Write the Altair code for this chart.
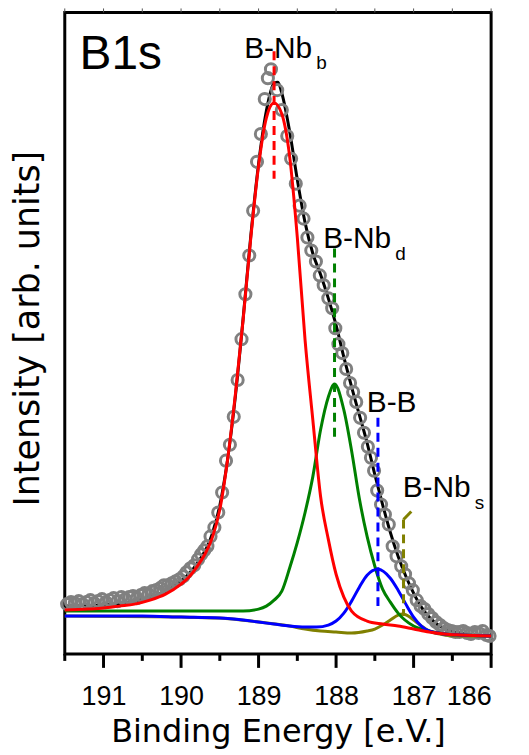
import altair as alt
import pandas as pd

# ---- measured spectrum (binding energy in eV, intensity in arb. units) ----
data_x = [191.47, 191.42, 191.37, 191.32, 191.27, 191.22, 191.17, 191.12, 191.07, 191.02,
          190.97, 190.92, 190.87, 190.82, 190.77, 190.72, 190.67, 190.62, 190.57, 190.52,
          190.47, 190.42, 190.37, 190.32, 190.27, 190.22, 190.17, 190.12, 190.07, 190.02,
          189.97, 189.93, 189.88, 189.83, 189.78, 189.74, 189.70, 189.66, 189.62, 189.57,
          189.52, 189.47, 189.42, 189.37, 189.32, 189.27, 189.22, 189.17, 189.12, 189.07,
          189.02, 188.97, 188.92, 188.88, 188.84, 188.76, 188.70, 188.63, 188.58, 188.52,
          188.47, 188.42, 188.37, 188.32, 188.26, 188.21, 188.16, 188.10, 188.05, 188.01,
          187.97, 187.92, 187.87, 187.82, 187.78, 187.74, 187.69, 187.64, 187.59, 187.55,
          187.51, 187.47, 187.42, 187.37, 187.32, 187.27, 187.22, 187.16, 187.11, 187.06,
          187.01, 186.96, 186.91, 186.86, 186.81, 186.76, 186.71, 186.66, 186.61, 186.56,
          186.51, 186.46, 186.41, 186.36, 186.31, 186.26, 186.21, 186.16, 186.11, 186.06,
          186.02]
data_y = [50, 52, 51, 53, 50, 52, 54, 51, 53, 55,
          52, 54, 56, 53, 57, 55, 57, 58, 56, 59,
          61, 60, 63, 64, 66, 69, 69, 71, 73, 75,
          78, 82, 86, 89, 95, 100, 104, 108, 118, 127,
          142, 162, 194, 210, 238, 275, 316, 361, 400, 445,
          494, 522, 557, 578, 587, 566, 546, 520, 497, 472,
          450, 437, 418, 405, 394, 380, 370, 357, 347, 327,
          311, 302, 286, 272, 263, 253, 237, 222, 208, 197,
          184, 164, 150, 140, 130, 108, 98, 88, 80, 71,
          64, 54, 48, 45, 40, 36, 32, 29, 26, 24,
          23, 22, 22, 23, 21, 20, 22, 21, 23, 19,
          18]

# ---- envelope (fit) ----
fit_x = [191.5, 191.0, 190.6, 190.4, 190.2, 190.0, 189.8, 189.6, 189.5, 189.4, 189.3,
         189.2, 189.1, 189.0, 188.9, 188.8, 188.75, 188.7, 188.6, 188.5, 188.4, 188.3,
         188.2, 188.1, 188.0, 187.9, 187.8, 187.7, 187.6, 187.5, 187.4, 187.3, 187.2,
         187.1, 187.0, 186.9, 186.8, 186.7, 186.6, 186.4, 186.2, 186.0]
fit_y = [48, 49, 53, 57, 63, 73, 90, 120, 149, 195, 258,
         336, 420, 492, 545, 573, 574, 563, 525, 476, 433, 402,
         381, 357, 330, 298, 268, 240, 212, 180, 150, 122, 98,
         78, 61, 47, 37, 30, 25, 21, 19, 18]

# ---- components ----
nbb_x = [191.5, 191.2, 191.0, 190.8, 190.6, 190.4, 190.2, 190.0, 189.9, 189.8, 189.7,
         189.6, 189.5, 189.4, 189.3, 189.2, 189.1, 189.0, 188.9, 188.8, 188.7, 188.6,
         188.5, 188.4, 188.3, 188.2, 188.1, 188.0, 187.9, 187.8, 187.6, 187.4, 187.2,
         187.0, 186.8, 186.6, 186.4, 186.0]
nbb_y = [44, 45, 46, 48, 50, 54, 60, 70, 77, 87, 99,
         116, 145, 195, 260, 335, 418, 490, 538, 553, 542, 500,
         418, 315, 235, 158, 115, 80, 57, 43, 33, 30, 28,
         25, 22, 20, 19, 18]

nbd_x = [191.5, 190.0, 189.4, 189.2, 189.0, 188.9, 188.8, 188.7, 188.6, 188.5, 188.4,
         188.3, 188.2, 188.1, 188.02, 187.9, 187.8, 187.7, 187.6, 187.5, 187.4, 187.3,
         187.2, 187.0, 186.8, 186.6, 186.4, 186.0]
nbd_y = [43, 43, 43, 43, 45, 48, 54, 63, 86, 112, 142,
         178, 225, 258, 271, 245, 204, 156, 118, 88, 65, 52,
         41, 28, 23, 20, 19, 18]

bb_x = [191.5, 190.5, 190.0, 189.5, 189.2, 189.0, 188.8, 188.6, 188.4, 188.25, 188.1,
        188.0, 187.9, 187.8, 187.7, 187.6, 187.46, 187.3, 187.2, 187.1, 187.0, 186.9,
        186.8, 186.6, 186.4, 186.0]
bb_y = [38, 38, 37, 36, 34, 32, 30, 28, 27, 27, 29,
        33, 41, 53, 67, 79, 85, 76, 64, 50, 37, 28,
        23, 20, 19, 18]

nbs_x = [191.5, 190.0, 189.5, 189.0, 188.6, 188.4, 188.2, 188.0, 187.8, 187.6, 187.5,
         187.4, 187.3, 187.2, 187.14, 187.05, 187.0, 186.9, 186.8, 186.6, 186.4, 186.0]
nbs_y = [38, 37, 36, 32, 28, 25, 23, 22, 21, 23, 25,
         29, 34, 39, 40, 37, 34, 28, 23, 19, 18, 18]

# ---- peak markers and labels ----
comp_names = ["B-Nb_b", "B-Nb_d", "B-B", "B-Nb_s"]
comp_colors = ["#ff0000", "#008000", "#0000ff", "#808000"]
peak_pos = [188.80, 188.02, 187.46, 187.13]
marker_top = [605, 407, 237, 135]
marker_bottom = [477, 215, 45, 38]

label_main = ["B-Nb", "B-Nb", "B-B", "B-Nb"]
label_sub = ["b", "d", "", "s"]
label_x = [188.295, 187.276, 186.949, 186.25]
label_main_y = [598, 408, 243, 158]
label_sub_y = [587, 395, 243, 145]

pointer_x = [187.13, 187.03]
pointer_y = [135, 143]

panel_label = ["B1s"]
panel_x = [191.31]
panel_y = [587]

major_ticks = [191, 190, 189, 188, 187, 186]
minor_ticks = [191.5, 190.5, 189.5, 188.5, 187.5, 186.5]
all_ticks = [191.5, 191, 190.5, 190, 189.5, 189, 188.5, 188, 187.5, 187, 186.5, 186]

xs = alt.Scale(domain=[186.0, 191.5], reverse=True, nice=False, zero=False)
ys = alt.Scale(domain=[0, 644], nice=False, zero=False)

x_axis = alt.Axis(
    values=major_ticks, format="d", ticks=False,
    labelPadding=30, labelFont="Liberation Sans", labelFontSize=27, labelColor="black",
    domain=False, grid=False,
    title="Binding Energy [e.V.]", titleFont="DejaVu Sans", titleFontSize=32,
    titleFontWeight="normal", titleColor="black", titleY=88, titleBaseline="alphabetic",
)
y_axis = alt.Axis(
    ticks=False, labels=False, domain=False, grid=False,
    title="Intensity [arb. units]", titleFont="DejaVu Sans", titleFontSize=35,
    titleFontWeight="normal", titleColor="black", titleX=-26, titleY=317,
    titleBaseline="alphabetic",
)

X = alt.X("energy:Q", scale=xs, axis=x_axis)
Y = alt.Y("intensity:Q", scale=ys, axis=y_axis)


def curve(xv, yv, color):
    df = pd.DataFrame({"energy": xv, "intensity": yv})
    return alt.Chart(df).mark_line(color=color, strokeWidth=3,
                                   interpolate="monotone").encode(x=X, y=Y)


fit = curve(fit_x, fit_y, "black")

points = alt.Chart(pd.DataFrame({"energy": data_x, "intensity": data_y})).mark_point(
    shape="circle", filled=False, size=125, strokeWidth=3, color="#808080", opacity=1
).encode(x=X, y=Y)

olive = curve(nbs_x, nbs_y, "#808000")
green = curve(nbd_x, nbd_y, "#008000")
blue = curve(bb_x, bb_y, "#0000ff")
red = curve(nbb_x, nbb_y, "#ff0000")

marker_df = pd.DataFrame({"energy": peak_pos, "intensity": marker_top,
                          "bottom": marker_bottom, "comp": comp_names})
rules = alt.Chart(marker_df).mark_rule(strokeWidth=3, strokeDash=[9, 6]).encode(
    x=X, y=Y, y2="bottom:Q",
    color=alt.Color("comp:N", scale=alt.Scale(domain=comp_names, range=comp_colors),
                    legend=None),
)

pointer = curve(pointer_x, pointer_y, "#808000")

main_df = pd.DataFrame({"energy": label_x, "intensity": label_main_y, "text": label_main})
sub_df = pd.DataFrame({"energy": label_x, "intensity": label_sub_y, "text": label_sub})
main_text = alt.Chart(main_df).mark_text(align="right", baseline="alphabetic", dx=-1,
                                         font="Liberation Sans", fontSize=30,
                                         color="black").encode(x=X, y=Y, text="text:N")
sub_text = alt.Chart(sub_df).mark_text(align="left", baseline="alphabetic", dx=3,
                                       font="Liberation Sans", fontSize=19,
                                       color="black").encode(x=X, y=Y, text="text:N")

panel_df = pd.DataFrame({"energy": panel_x, "intensity": panel_y, "text": panel_label})
panel_text = alt.Chart(panel_df).mark_text(align="left", baseline="alphabetic",
                                           font="Liberation Sans", fontSize=48,
                                           color="black").encode(x=X, y=Y, text="text:N")

# axis tick marks (outward at the bottom, small ones along the top edge)
major_tick_marks = alt.Chart(pd.DataFrame({"energy": major_ticks})).mark_rule(
    color="black", strokeWidth=3).encode(x=X, y=alt.value(644), y2=alt.value(658))
minor_tick_marks = alt.Chart(pd.DataFrame({"energy": minor_ticks})).mark_rule(
    color="black", strokeWidth=3).encode(x=X, y=alt.value(644), y2=alt.value(651))
top_tick_marks = alt.Chart(pd.DataFrame({"energy": all_ticks})).mark_rule(
    color="#555555", strokeWidth=1).encode(x=X, y=alt.value(-4), y2=alt.value(0))

chart = alt.layer(
    fit, points, olive, green, blue, red, rules, pointer, main_text, sub_text, panel_text,
    major_tick_marks, minor_tick_marks, top_tick_marks,
).properties(
    width=428,
    height=644,
    padding={"left": 57, "top": 3, "right": 30, "bottom": 95},
    autosize=alt.AutoSizeParams(type="none"),
    background="white",
).configure_view(stroke="black", strokeWidth=3)

chart.save("out.html", embed_options={"renderer": "svg", "actions": False})
